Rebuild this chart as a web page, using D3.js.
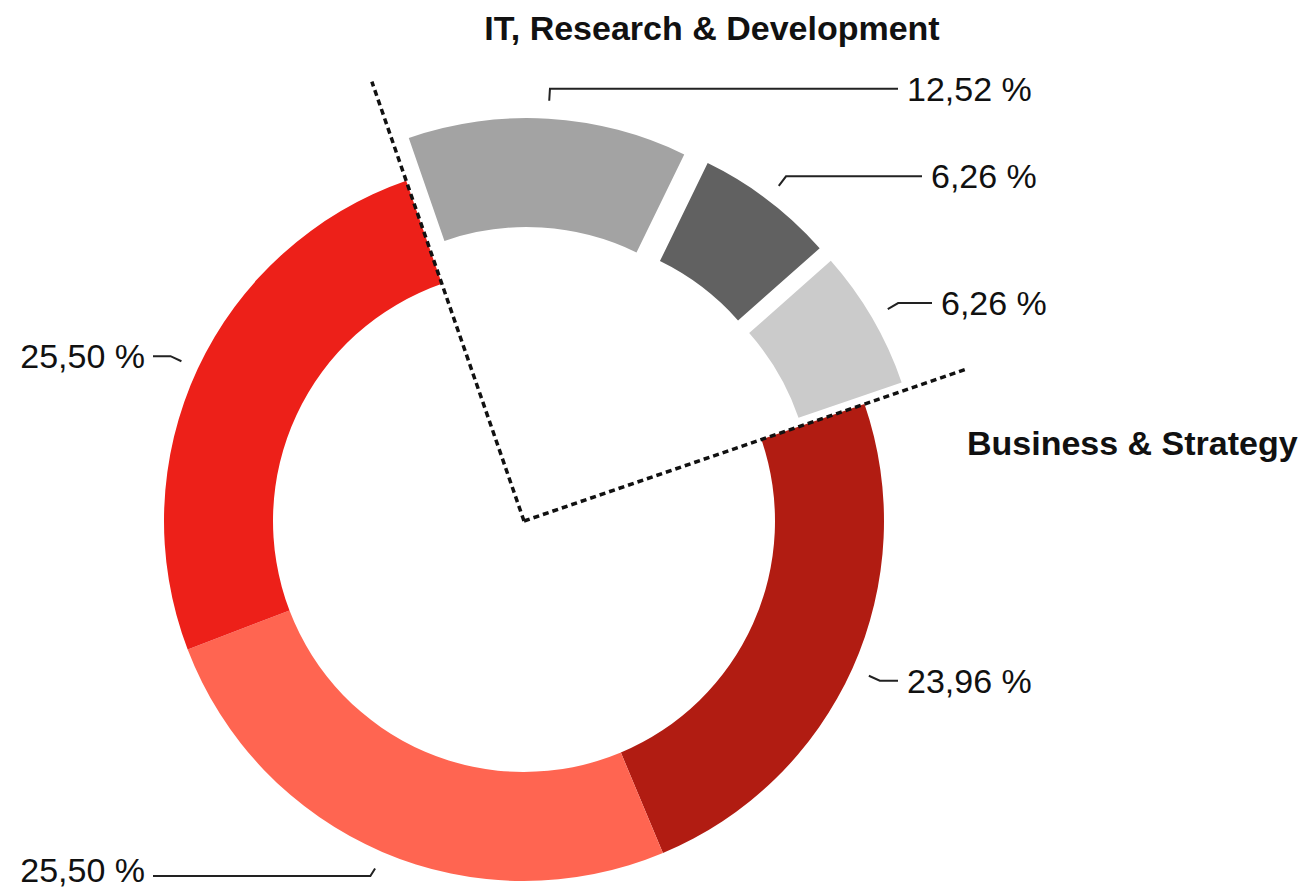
<!DOCTYPE html>
<html>
<head>
<meta charset="utf-8">
<script src="https://cdn.jsdelivr.net/npm/d3@7"></script>
<style>
  html, body { margin: 0; padding: 0; background: #fff; }
  svg { display: block; }
  text { font-family: "Liberation Sans", Arial, Helvetica, sans-serif; fill: #111; }
</style>
</head>
<body>
<svg id="chart" width="1302" height="893"></svg>
<script>
// ---- data ----
const sliceIds = ["it1", "it2", "it3", "bs1", "bs2", "bs3"];
const values = [12.52, 6.26, 6.26, 23.96, 25.50, 25.50];
const sliceGroups = [
  "IT, Research & Development", "IT, Research & Development", "IT, Research & Development",
  "Business & Strategy", "Business & Strategy", "Business & Strategy"
];
const groupTitles = ["IT, Research & Development", "Business & Strategy"];
const colors = ["#a3a3a3", "#616161", "#cbcbcb", "#b11c12", "#ff6551", "#ed2019"];

// ---- layout ----
const W = 1302, H = 893;
const cx = 524, cy = 521;
const rOuter = 360, rInner = 251;
const explode = 43;
const startDeg = -19.1;
const leaderEndX = [898, 922, 932, 898, 153, 153];

const svg = d3.select("#chart");
const g = svg.append("g").attr("transform", `translate(${cx},${cy})`);

const pie = d3.pie().sort(null).value(d => d.value)
  .startAngle(startDeg * Math.PI / 180)
  .endAngle(startDeg * Math.PI / 180 + 2 * Math.PI);

const rows = values.map((v, i) => ({ id: sliceIds[i], value: v, group: sliceGroups[i], color: colors[i], endX: leaderEndX[i] }));
const arcs = pie(rows);

const arc = d3.arc().innerRadius(rInner).outerRadius(rOuter);
const offArc = d3.arc().innerRadius(explode).outerRadius(explode);
const p0Arc = d3.arc().innerRadius(378).outerRadius(378);
const p1Arc = d3.arc().innerRadius(390).outerRadius(390);

const isExploded = d => d.data.group === groupTitles[0];
const offset = d => isExploded(d) ? offArc.centroid(d) : [0, 0];

g.selectAll("path.slice").data(arcs).join("path")
  .attr("class", "slice")
  .attr("d", arc)
  .attr("fill", d => d.data.color)
  .attr("transform", d => `translate(${offset(d)[0]},${offset(d)[1]})`);

// dashed group separators
const itArcs = arcs.filter(isExploded);
const a0 = d3.min(itArcs, d => d.startAngle), a1 = d3.max(itArcs, d => d.endAngle);
const sepLen = [465, 470];
[a0, a1].forEach((a, i) => {
  g.append("line")
    .attr("x1", 0).attr("y1", 0)
    .attr("x2", sepLen[i] * Math.sin(a)).attr("y2", -sepLen[i] * Math.cos(a))
    .attr("stroke", "#111").attr("stroke-width", 3.5)
    .attr("stroke-dasharray", "6,4");
});

// leaders + labels
const fmt = d3.formatLocale({ decimal: ",", thousands: ".", grouping: [3], currency: ["", "€"] }).format(".2f");
arcs.forEach(d => {
  const o = offset(d);
  const p0 = p0Arc.centroid(d), p1 = p1Arc.centroid(d);
  const a = [p0[0] + o[0] + cx, p0[1] + o[1] + cy];
  const b = [p1[0] + o[0] + cx, Math.min(p1[1] + o[1] + cy, H - 17)];
  const c = [d.data.endX, b[1]];
  svg.append("path")
    .attr("d", d3.line()([a, b, c]))
    .attr("fill", "none").attr("stroke", "#222").attr("stroke-width", 2);
  const right = c[0] > b[0];
  svg.append("text")
    .attr("x", right ? c[0] + 9 : c[0] - 8)
    .attr("y", Math.min(c[1] + 12, H - 11))
    .attr("text-anchor", right ? "start" : "end")
    .attr("font-size", 34)
    .text(fmt(d.data.value) + " %");
});

// group titles
svg.append("text").attr("x", 712).attr("y", 40).attr("text-anchor", "middle")
  .attr("font-size", 34).attr("font-weight", "bold").text(groupTitles[0]);
svg.append("text").attr("x", 967).attr("y", 455).attr("text-anchor", "start")
  .attr("font-size", 34).attr("font-weight", "bold").text(groupTitles[1]);
</script>
</body>
</html>
